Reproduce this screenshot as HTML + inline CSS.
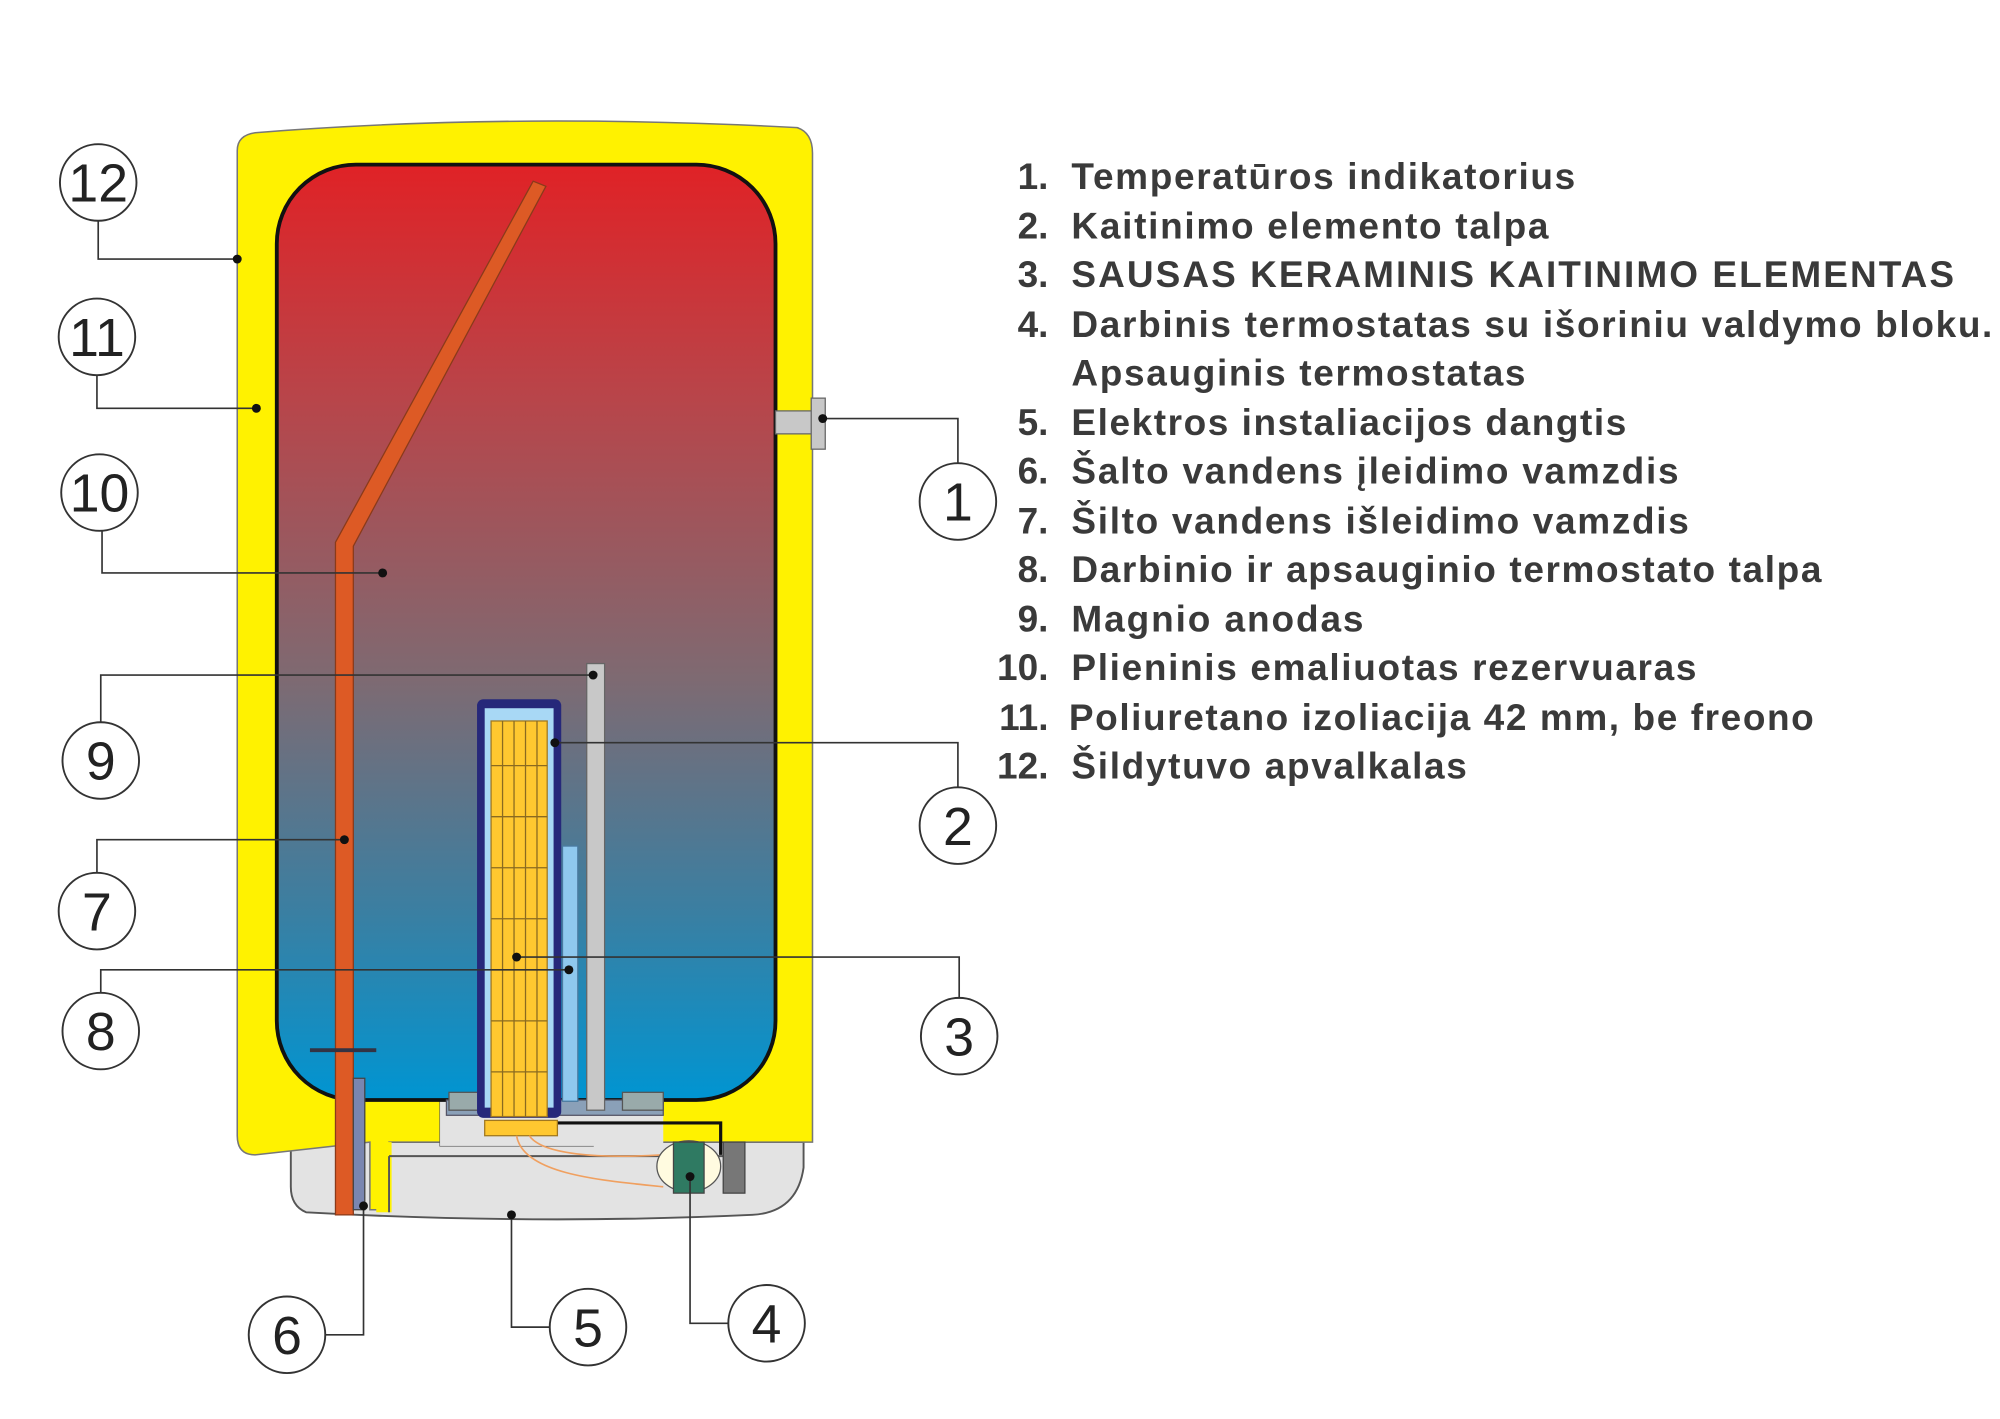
<!DOCTYPE html>
<html><head><meta charset="utf-8"><style>
html,body{margin:0;padding:0;background:#fff;width:2000px;height:1419px;overflow:hidden}
svg{display:block}
.t{font-family:"Liberation Sans",sans-serif;font-weight:bold;font-size:29px;fill:#3a3a3a}
.c{font-family:"Liberation Sans",sans-serif;font-size:42px;fill:#222}
</style></head><body>
<svg width="2000" height="1419" viewBox="0 0 1568 1112" preserveAspectRatio="none" xmlns="http://www.w3.org/2000/svg">
<defs>
<linearGradient id="g" x1="0" y1="0" x2="0" y2="1">
<stop offset="0" stop-color="#e02226"/>
<stop offset="0.25" stop-color="#b8454a"/>
<stop offset="0.55" stop-color="#7e6a72"/>
<stop offset="0.8" stop-color="#3a7fa2"/>
<stop offset="1" stop-color="#0095d2"/>
</linearGradient>
</defs>
<!-- gray bottom cover -->
<path d="M228 895 L630 895 L630 915 Q625 950 590 952 Q420 960 240 950 Q228 945 228 930 Z" fill="#e3e3e3" stroke="#555" stroke-width="1.5"/>
<!-- yellow shell -->
<path d="M200 104 Q400 88 625 100 Q637 104 637 120 L637 895 L305 895 L305 948 L290 948 L290 895 L200 905 Q186 905 186 890 L186 118 Q186 106 200 104 Z" fill="#fff200" stroke="#777" stroke-width="1.2"/>
<rect x="295" y="895" width="12" height="55" fill="#fff200"/>
<!-- bottom gray box area -->
<rect x="345" y="858" width="120" height="40" fill="#e3e3e3" stroke="#555" stroke-width="1"/>
<rect x="345" y="858" width="175" height="40" fill="#e3e3e3"/>
<line x1="305" y1="906" x2="570" y2="906" stroke="#555" stroke-width="1.5"/>
<line x1="305" y1="906" x2="305" y2="950" stroke="#555" stroke-width="1.5"/>
<!-- tank -->
<rect x="217" y="129" width="391" height="733" rx="62" fill="url(#g)" stroke="#111" stroke-width="3"/>
<!-- mounts -->
<rect x="350" y="862" width="170" height="12" fill="#8aa0b8" stroke="#556" stroke-width="1"/>
<rect x="352" y="856" width="32" height="14" fill="#9aa" stroke="#555"/>
<rect x="488" y="856" width="32" height="14" fill="#9aa" stroke="#555"/>
<path d="M430 880 L565 880 L565 905" fill="none" stroke="#111" stroke-width="2.5"/>
<!-- pipe 7 -->
<path d="M263 425 L418 142 L428 146 L277 428 L277 952 L263 952 Z" fill="#dd5a25" stroke="#8a3a1a" stroke-width="1"/>
<line x1="243" y1="823" x2="295" y2="823" stroke="#334" stroke-width="3"/>
<rect x="277" y="845" width="9" height="103" fill="#7a86b0" stroke="#444" stroke-width="1"/>
<!-- anode -->
<rect x="460" y="520" width="14" height="350" fill="#c8c8c8" stroke="#666" stroke-width="1"/>
<!-- thermostat tube -->
<rect x="441" y="663" width="12" height="200" fill="#8fc8ee" stroke="#4a7aa0" stroke-width="1"/>
<!-- heater -->
<rect x="374" y="548" width="66" height="328" rx="5" fill="#26287a"/>
<rect x="380" y="555" width="54" height="313" fill="#a8d8f5"/>
<rect x="385" y="565" width="44" height="310" fill="#ffc830" stroke="#a07820" stroke-width="1"/>
<g stroke="#8a6a20" stroke-width="1">
<line x1="394" y1="565" x2="394" y2="875"/><line x1="403" y1="565" x2="403" y2="875"/><line x1="412" y1="565" x2="412" y2="875"/><line x1="421" y1="565" x2="421" y2="875"/>
<line x1="385" y1="600" x2="429" y2="600"/><line x1="385" y1="640" x2="429" y2="640"/><line x1="385" y1="680" x2="429" y2="680"/><line x1="385" y1="720" x2="429" y2="720"/><line x1="385" y1="760" x2="429" y2="760"/><line x1="385" y1="800" x2="429" y2="800"/><line x1="385" y1="840" x2="429" y2="840"/>
</g>
<rect x="380" y="878" width="57" height="12" fill="#ffc830" stroke="#a07820"/>
<path d="M405 890 C410 920 470 925 520 930 M415 890 C425 905 470 908 520 905" fill="none" stroke="#f0a060" stroke-width="1.3"/>
<!-- thermostat 4 -->
<ellipse cx="540" cy="914" rx="25" ry="20" fill="#fffbe0" stroke="#555"/>
<rect x="528" y="895" width="24" height="40" fill="#2f7a62" stroke="#444"/>
<rect x="567" y="895" width="17" height="40" fill="#777" stroke="#444"/>
<!-- indicator 1 -->
<rect x="608" y="322" width="30" height="18" fill="#c8c8c8" stroke="#666"/>
<rect x="636" y="312" width="11" height="40" fill="#c8c8c8" stroke="#666"/>
<!-- leader lines -->
<g fill="none" stroke="#333" stroke-width="1.3">
<path d="M77 173 V203 H186"/><path d="M76 294 V320 H201"/><path d="M80 416 V449 H300"/>
<path d="M79 566 V529 H465"/><path d="M76 684 V658 H270"/><path d="M79 778 V760 H446"/>
<path d="M752 782 V750 H405"/><path d="M751 617 V582 H435"/><path d="M751 363 V328 H645"/>
<path d="M255 1046 H285 V945"/><path d="M431 1040 H401 V952"/><path d="M571 1037 H541 V922"/>
</g>
<g fill="#111">
<circle cx="186" cy="203" r="3.5"/><circle cx="201" cy="320" r="3.5"/><circle cx="300" cy="449" r="3.5"/>
<circle cx="465" cy="529" r="3.5"/><circle cx="270" cy="658" r="3.5"/><circle cx="446" cy="760" r="3.5"/>
<circle cx="405" cy="750" r="3.5"/><circle cx="435" cy="582" r="3.5"/><circle cx="645" cy="328" r="3.5"/>
<circle cx="285" cy="945" r="3.5"/><circle cx="401" cy="952" r="3.5"/><circle cx="541" cy="922" r="3.5"/>
</g>
<g fill="#fff" stroke="#333" stroke-width="1.5">
<circle cx="77" cy="143" r="30"/><circle cx="76" cy="264" r="30"/><circle cx="78" cy="386" r="30"/>
<circle cx="79" cy="596" r="30"/><circle cx="76" cy="714" r="30"/><circle cx="79" cy="808" r="30"/>
<circle cx="225" cy="1046" r="30"/><circle cx="461" cy="1040" r="30"/><circle cx="601" cy="1037" r="30"/>
<circle cx="751" cy="393" r="30"/><circle cx="751" cy="647" r="30"/><circle cx="752" cy="812" r="30"/>
</g>
<g class="c" text-anchor="middle">
<text x="77" y="158">12</text><text x="76" y="279">11</text><text x="78" y="401">10</text>
<text x="79" y="611">9</text><text x="76" y="729">7</text><text x="79" y="823">8</text>
<text x="225" y="1061">6</text><text x="461" y="1055">5</text><text x="601" y="1052">4</text>
<text x="751" y="408">1</text><text x="751" y="662">2</text><text x="752" y="827">3</text>
</g>
<g class="t">
<text x="822" y="148" text-anchor="end">1.</text><text x="840" y="148" textLength="395">Temperatūros indikatorius</text>
<text x="822" y="187" text-anchor="end">2.</text><text x="840" y="187" textLength="374">Kaitinimo elemento talpa</text>
<text x="822" y="225" text-anchor="end">3.</text><text x="840" y="225" textLength="692">SAUSAS KERAMINIS KAITINIMO ELEMENTAS</text>
<text x="822" y="264" text-anchor="end">4.</text><text x="840" y="264" textLength="722">Darbinis termostatas su išoriniu valdymo bloku.</text>
<text x="840" y="302" textLength="356">Apsauginis termostatas</text>
<text x="822" y="341" text-anchor="end">5.</text><text x="840" y="341" textLength="435">Elektros instaliacijos dangtis</text>
<text x="822" y="379" text-anchor="end">6.</text><text x="840" y="379" textLength="476">Šalto vandens įleidimo vamzdis</text>
<text x="822" y="418" text-anchor="end">7.</text><text x="840" y="418" textLength="484">Šilto vandens išleidimo vamzdis</text>
<text x="822" y="456" text-anchor="end">8.</text><text x="840" y="456" textLength="588">Darbinio ir apsauginio termostato talpa</text>
<text x="822" y="495" text-anchor="end">9.</text><text x="840" y="495" textLength="229">Magnio anodas</text>
<text x="822" y="533" text-anchor="end">10.</text><text x="840" y="533" textLength="490">Plieninis emaliuotas rezervuaras</text>
<text x="822" y="572" text-anchor="end">11.</text><text x="838" y="572" textLength="584">Poliuretano izoliacija 42 mm, be freono</text>
<text x="822" y="610" text-anchor="end">12.</text><text x="840" y="610" textLength="310">Šildytuvo apvalkalas</text>
</g>
</svg>
</body></html>
